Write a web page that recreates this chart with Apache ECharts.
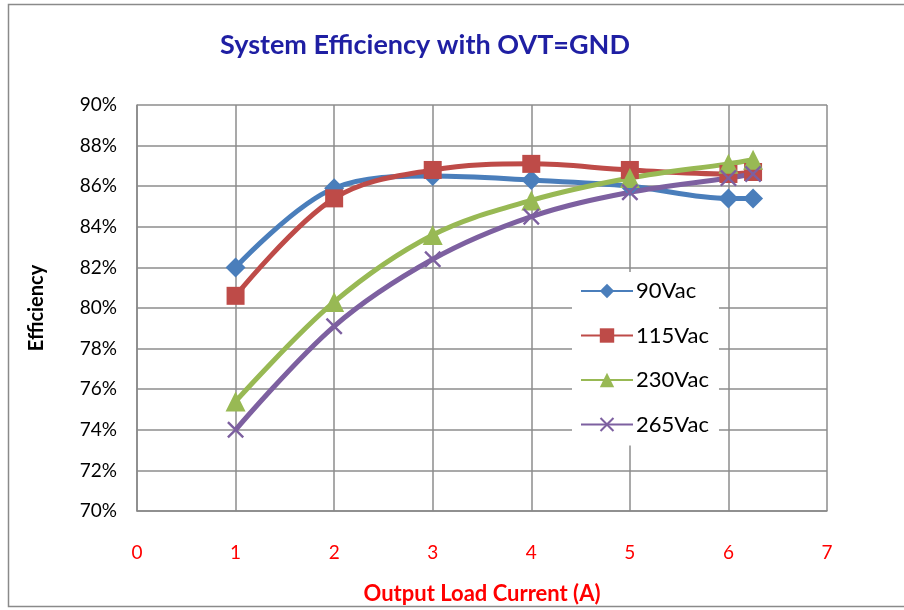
<!DOCTYPE html>
<html>
<head>
<meta charset="utf-8">
<script src="https://cdn.jsdelivr.net/npm/echarts@6/dist/echarts.min.js"></script>
<style>
  html, body { margin: 0; padding: 0; background: #fff; }
  #chart { width: 904px; height: 610px; }
</style>
</head>
<body>
<div id="chart"></div>
<script>
// load current (A)
const loads = [1, 2, 3, 4, 5, 6, 6.25];
// efficiency (%) per input voltage
const eff90 = [82.0, 85.9, 86.5, 86.3, 86.0, 85.4, 85.4];
const eff115 = [80.6, 85.4, 86.8, 87.1, 86.8, 86.6, 86.7];
const eff230 = [75.4, 80.3, 83.6, 85.3, 86.4, 87.1, 87.3];
const eff265 = [74.0, 79.1, 82.4, 84.5, 85.7, 86.4, 86.6];
const seriesNames = ['90Vac', '115Vac', '230Vac', '265Vac'];

const font = 'Lato, "Open Sans", sans-serif';
const pair = (ys) => loads.map((x, i) => [x, ys[i]]);

// cross marker drawn as a filled shape
const cross = 'path://M0,1L1,0L5,4L9,0L10,1L6,5L10,9L9,10L5,6L1,10L0,9L4,5Z';

const mk = (name, data, color, symbol, size) => ({
  name: name,
  type: 'line',
  data: pair(data),
  smooth: 0.35,
  symbol: symbol,
  symbolSize: size,
  showAllSymbol: true,
  lineStyle: { width: 5, color: color },
  itemStyle: { color: color },
  emphasis: { disabled: true },
  z: 3
});

const chart = echarts.init(document.getElementById('chart'));
chart.setOption({
  animation: false,
  textStyle: { fontFamily: font },
  title: {
    text: 'System Efficiency with OVT=GND',
    left: 420, top: 27,
    textAlign: 'center',
    textStyle: { fontSize: 27, fontWeight: 'bold', color: '#1F1FA3', fontFamily: font }
  },
  graphic: [{
    type: 'rect',
    shape: { x: 8.5, y: 4.5, width: 920, height: 602 },
    style: { fill: 'none', stroke: '#8a8a8a', lineWidth: 1.5 },
    silent: true
  }],
  legend: {
    orient: 'vertical',
    left: 572, top: 272,
    width: 158,
    backgroundColor: '#fff',
    padding: [8, 10, 10, 8],
    itemWidth: 52, itemHeight: 18,
    itemGap: 22.5,
    textStyle: { fontSize: 22, color: '#000', fontFamily: font, padding: [0, 0, 0, -2] },
    data: seriesNames
  },
  grid: { left: 137, right: 77, top: 105, bottom: 99 },
  xAxis: {
    type: 'value',
    min: 0, max: 7, interval: 1,
    name: 'Output Load Current (A)',
    nameLocation: 'middle',
    nameGap: 72,
    nameTextStyle: { fontSize: 22, fontWeight: 'bold', color: '#FF0000', fontFamily: font },
    axisLine: { show: true, lineStyle: { color: '#888', width: 1.5 } },
    axisTick: { show: false },
    axisLabel: { color: '#FF0000', fontSize: 19, margin: 32, fontFamily: font },
    splitLine: { show: true, lineStyle: { color: '#8c8c8c', width: 1.5 } }
  },
  yAxis: {
    type: 'value',
    min: 70, max: 90, interval: 2,
    name: 'Efficiency',
    nameLocation: 'middle',
    nameGap: 90,
    nameTextStyle: { fontSize: 20, fontWeight: 'bold', color: '#000', fontFamily: font },
    axisLine: { show: true, lineStyle: { color: '#888', width: 1.5 } },
    axisTick: { show: false },
    axisLabel: { formatter: '{value}%', color: '#000', fontSize: 19, margin: 20, fontFamily: font },
    splitLine: { show: true, lineStyle: { color: '#8c8c8c', width: 1.5 } }
  },
  series: [
    mk(seriesNames[0], eff90, '#4A7EBB', 'diamond', 20),
    mk(seriesNames[1], eff115, '#BE4B48', 'rect', 18),
    mk(seriesNames[2], eff230, '#98B954', 'triangle', 20),
    mk(seriesNames[3], eff265, '#7D60A0', cross, 17)
  ]
});
</script>
</body>
</html>
